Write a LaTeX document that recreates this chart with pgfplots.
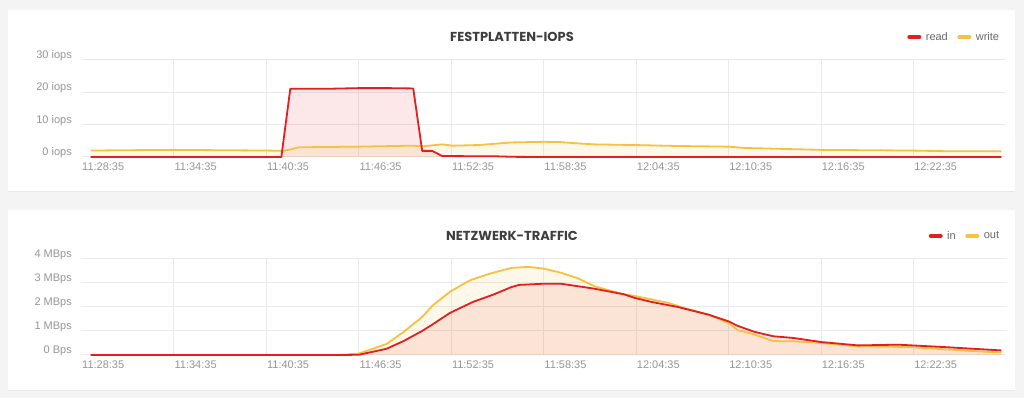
\documentclass[border=0pt]{standalone}
\usepackage{pgfplots}
\pgfplotsset{compat=1.18}
\usepackage{pgfplotstable}
\usepackage{fontspec}
\setmainfont{Liberation Sans}
\newfontfamily\titlefont{Poppins}

\definecolor{cred}{RGB}{226,30,30}
\definecolor{cyellow}{RGB}{246,194,62}
\definecolor{cgrid}{RGB}{233,233,233}
\definecolor{ctick}{RGB}{150,150,150}
\definecolor{ctitle}{RGB}{62,62,62}
\definecolor{clegend}{RGB}{105,105,105}
\definecolor{cbg}{RGB}{244,244,244}

% minutes after 11:28:35
\pgfplotstableread{
t v
0.6 0
12.97 0
13.55 21.1
16 21.1
18 21.3
20 21.3
21.53 21.2
22.11 1.9
22.76 1.9
23.41 0.3
27 0.2
28 0.05
30 0
59.7 0
}\readiops

\pgfplotstableread{
t v
0.6 2.0
3 2.1
6 2.2
9 2.1
12 2.0
12.97 1.9
13.55 2.3
14.1 3.0
18 3.2
21.5 3.5
22.1 3.3
23.4 3.9
24.1 3.5
25.8 3.7
27.9 4.5
30 4.7
31.1 4.6
32.2 4.2
33.3 3.9
35.9 3.7
38.7 3.4
42 3.2
43 2.8
48 2.2
53.8 2.0
56 1.8
59.7 1.8
}\writeiops

\pgfplotstableread{
t v
0.6 0
16.9 0
18.0 0.01
19.8 0.26
20.9 0.58
22.1 1.0
22.8 1.28
23.9 1.75
25.4 2.21
26.7 2.51
27.9 2.83
28.4 2.92
30.0 2.97
31.1 2.97
32.6 2.83
33.3 2.76
35.2 2.53
35.9 2.38
37.0 2.21
38.7 2.0
40.7 1.68
42.0 1.4
42.6 1.21
43.7 0.96
44.9 0.78
46.2 0.71
48.0 0.54
50.4 0.4
53.0 0.43
56.0 0.33
59.7 0.19
}\netin

\pgfplotstableread{
t v
0.6 0
16.7 0
18.0 0.06
19.8 0.46
20.9 0.96
22.1 1.58
22.8 2.07
23.9 2.63
25.2 3.11
26.5 3.39
27.9 3.63
29.0 3.67
30.0 3.6
31.1 3.43
32.2 3.2
33.3 2.86
35.2 2.53
35.9 2.46
38.1 2.17
39.1 1.96
40.7 1.68
42.0 1.33
42.6 1.03
43.5 0.89
44.9 0.58
46.2 0.57
48.0 0.5
50.4 0.36
53.8 0.33
57.1 0.19
59.7 0.1
}\netout

\pgfplotsset{
  panel/.style={
    scale only axis, width=924.5pt, anchor=south west,
    xmin=0, xmax=60, ymin=0,
    axis line style={draw=none},
    major tick length=0pt,
    grid=major, grid style={cgrid, line width=1pt},
    xtick={6,12,...,54},
    xticklabels={11:34:35,11:40:35,11:46:35,11:52:35,11:58:35,12:04:35,12:10:35,12:16:35,12:22:35},
    extra x ticks={0}, extra x tick labels={11:28:35},
    extra x tick style={grid=none},
    xticklabel style={anchor=north west, inner sep=0pt, xshift=0.5pt, yshift=-5.5pt, font=\fontsize{11}{13}\selectfont, text=ctick},
    yticklabel style={anchor=east, inner sep=0pt, xshift=-9.5pt, yshift=4.5pt, font=\fontsize{11}{13}\selectfont, text=ctick},
    clip=false,
    legend style={draw=none, fill=none, legend columns=2, anchor=east,
      font=\fontsize{11}{13}\selectfont, text=clegend,
      nodes={inner sep=0.5pt},
      /tikz/every odd column/.append style={column sep=4pt},
      /tikz/every even column/.append style={column sep=9pt}},
    legend image code/.code={\draw[##1, line width=4.5pt, line cap=round] (0pt,0pt) -- (9.5pt,0pt);},
  },
  fillred/.style={draw=none, fill=cred, fill opacity=0.1, forget plot},
  fillyel/.style={draw=none, fill=cyellow, fill opacity=0.1, forget plot},
  linered/.style={cred, line width=1.8pt, line join=round, forget plot},
  lineyel/.style={cyellow, line width=1.8pt, line join=round, forget plot},
}

\begin{document}
\begin{tikzpicture}
  \fill[cbg] (0pt,0pt) rectangle (1024pt,398pt);
  % panels with a faint shadow
  \fill[black!9] (8.3pt,206pt) rectangle (1015.3pt,387.5pt);
  \fill[white] (8.3pt,207pt) rectangle (1015.3pt,388pt);
  \fill[black!9] (8.3pt,7.3pt) rectangle (1015.3pt,188pt);
  \fill[white] (8.3pt,8.3pt) rectangle (1015.3pt,188.3pt);

  \node[font=\titlefont\bfseries\fontsize{13}{15}\selectfont, text=ctitle] at (512pt,361pt) {FESTPLATTEN-IOPS};
  \node[font=\titlefont\bfseries\fontsize{13}{15}\selectfont, text=ctitle] at (512pt,162pt) {NETZWERK-TRAFFIC};

  \begin{axis}[panel, at={(81.5pt,241pt)}, height=97pt, ymax=30,
      ytick={0,10,20,30}, yticklabels={0 iops,10 iops,20 iops,30 iops},
      legend style={at={(0.9965,1.237)}}]
    \addplot[fillred] table[x=t,y=v] {\readiops} \closedcycle;
    \addplot[fillyel] table[x=t,y=v] {\writeiops} \closedcycle;
    \addplot[lineyel] table[x=t,y=v] {\writeiops};
    \addplot[linered] table[x=t,y=v] {\readiops};
    \addlegendimage{cred}
    \addlegendentry{read}
    \addlegendimage{cyellow}
    \addlegendentry{write}
  \end{axis}

  \begin{axis}[panel, at={(81.5pt,43pt)}, height=96pt, ymax=4,
      ytick={0,1,2,3,4}, yticklabels={0 Bps,1 MBps,2 MBps,3 MBps,4 MBps},
      legend style={at={(0.9965,1.24)}}]
    \addplot[fillred] table[x=t,y=v] {\netin} \closedcycle;
    \addplot[fillyel] table[x=t,y=v] {\netout} \closedcycle;
    \addplot[lineyel] table[x=t,y=v] {\netout};
    \addplot[linered] table[x=t,y=v] {\netin};
    \addlegendimage{cred}
    \addlegendentry{in}
    \addlegendimage{cyellow}
    \addlegendentry{out}
  \end{axis}

  \pgfresetboundingbox
  \useasboundingbox (0pt,0pt) rectangle (1024pt,398pt);
\end{tikzpicture}
\end{document}
